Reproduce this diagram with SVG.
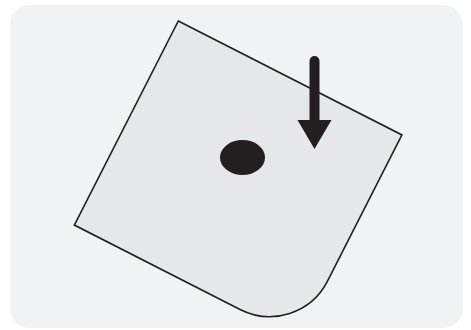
<svg xmlns="http://www.w3.org/2000/svg" width="471" height="330" viewBox="0 0 471 330">
<style>
.bg{fill:#f1f2f4}
.plate{fill:#e6e7e8;stroke:#231f20;stroke-width:1.6;stroke-linejoin:miter}
.dark{fill:#231f20}
.shaft{stroke:#231f20;stroke-width:10;stroke-linecap:round;fill:none}
</style>
<rect class="bg" x="10" y="5" width="453" height="323" rx="20"/>
<g id="plate">
<path class="plate" transform="translate(178.3,21) rotate(27)" d="M0,0 H251 V164 A65,65 0 0 1 186,229 H0 Z"/>
</g>
<g id="dot">
<ellipse class="dark" cx="242.5" cy="157.5" rx="22.5" ry="17.5"/>
</g>
<g id="connectors">
<line class="shaft" x1="314.5" y1="61" x2="314.5" y2="122"/>
<polygon class="dark" points="297.5,120 331.5,120 314.5,149"/>
</g>
</svg>
